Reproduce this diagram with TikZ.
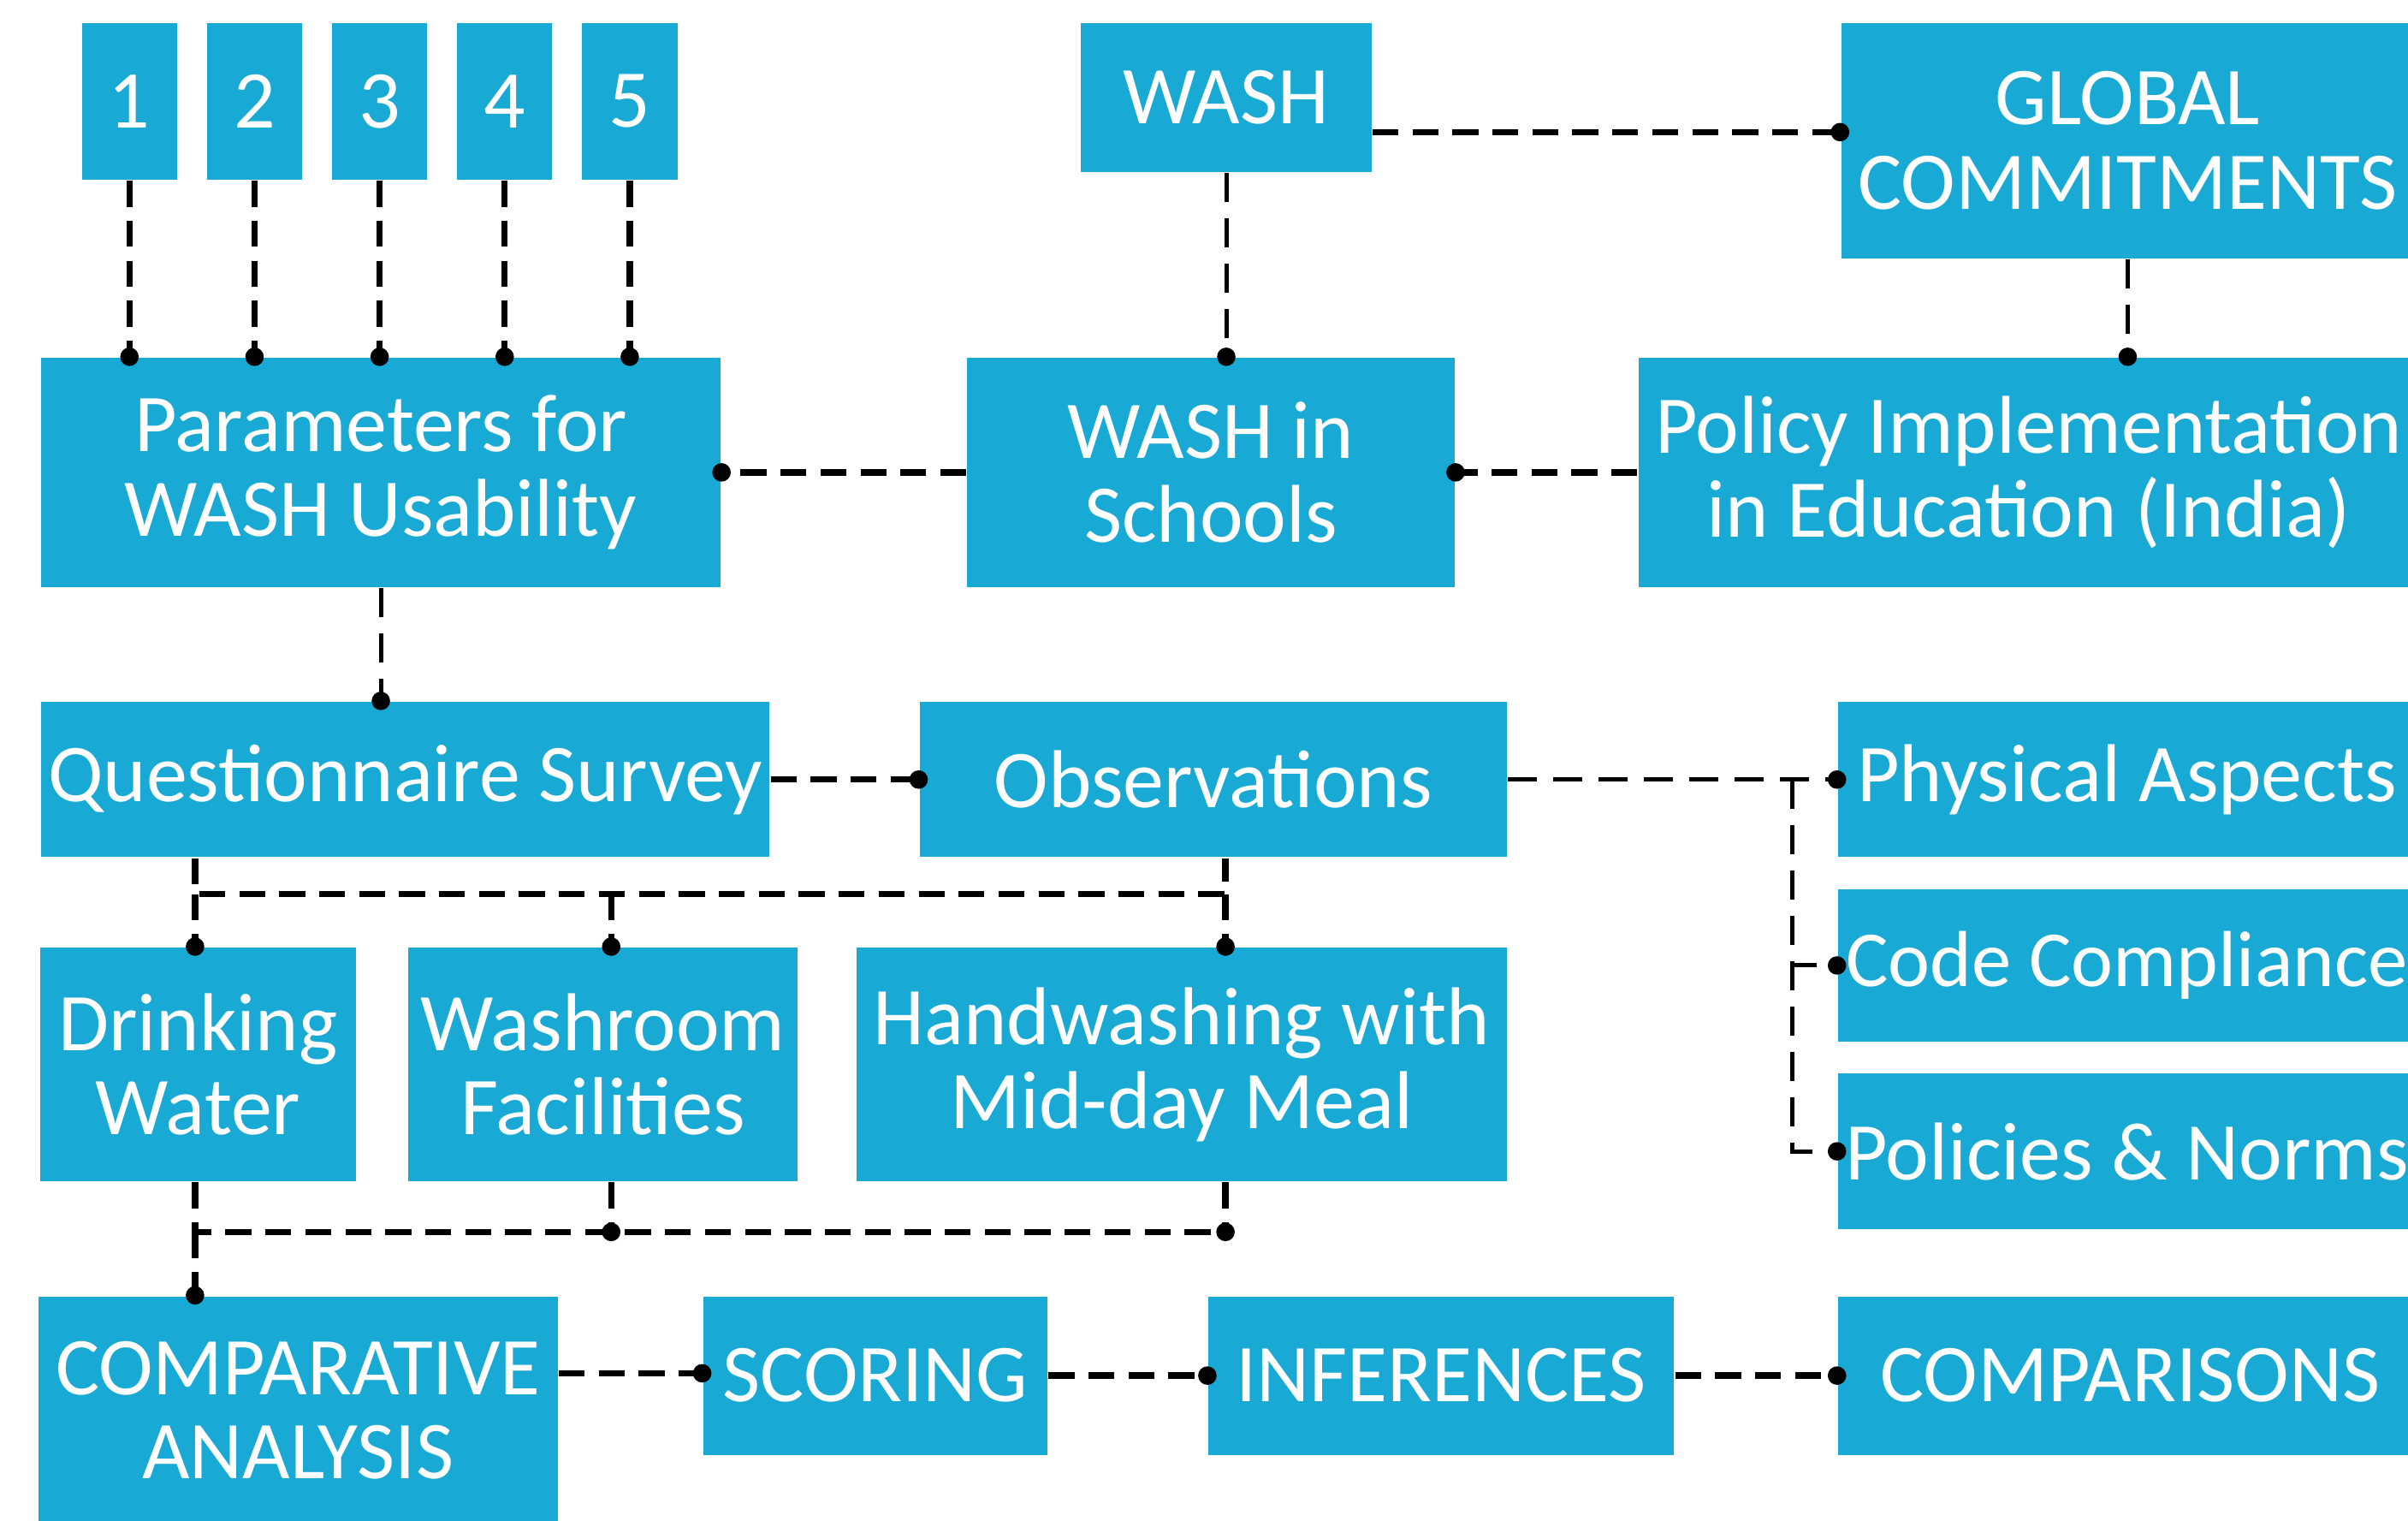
\documentclass[tikz,border=0pt]{standalone}
\usepackage{fontspec}
\setmainfont{Carlito}
\usepackage{xcolor}
\usetikzlibrary{arrows.meta}
\definecolor{washblue}{RGB}{24,169,212}

\tikzset{
  box/.style={fill=washblue,text=white,inner sep=0pt,align=center,font=\fontsize{15.2}{15.6}\selectfont},
  num/.style={box,minimum width=0.62cm,minimum height=1.02cm},
  link/.style={draw=black,line width=1.15pt,dash pattern=on 4.8pt off 2.6pt},
  thinlink/.style={draw=black,line width=0.8pt,dash pattern=on 5.4pt off 3pt},
  dot/.style={-{Circle[length=3.4pt,width=3.4pt]},shorten >=-1.7pt}
}

\begin{document}
\begin{tikzpicture}[x=0.01cm,y=-0.01cm,node distance=0.814cm]
  \useasboundingbox (0,0) rectangle (1568,990);
  \clip (0,0) rectangle (1568,990);

  \node[num] (n1) at (84.3,66) {1};
  \node[num] (n2) [right of=n1] {2};
  \node[num] (n3) [right of=n2] {3};
  \node[num] (n4) [right of=n3] {4};
  \node[num] (n5) [right of=n4] {5};

  \node[box,minimum width=1.89cm,minimum height=0.97cm] (wash) at (798.5,63.5) {WASH};
  \node[box,minimum width=3.73cm,minimum height=1.53cm] (glob) at (1385.5,91.5) {GLOBAL\\COMMITMENTS};
  \node[box,minimum width=4.42cm,minimum height=1.49cm] (param) at (248,307.5) {Parameters for\\WASH Usability};
  \node[box,minimum width=3.17cm,minimum height=1.49cm] (school) at (788.5,307.5) {WASH in\\Schools};
  \node[box,minimum width=5.08cm,minimum height=1.49cm] (policy) at (1321,307.5) {Policy Implementation\\in Education (India)};
  \node[box,minimum width=4.74cm,minimum height=1.01cm] (quest) at (264,507.5) {Questionnaire Survey};
  \node[box,minimum width=3.82cm,minimum height=1.01cm] (obs) at (790,507.5) {Observations};
  \node[box,minimum width=3.76cm,minimum height=1.01cm] (phys) at (1385,507.5) {Physical Aspects};
  \node[box,minimum width=3.76cm,minimum height=0.99cm,font=\fontsize{14.7}{15.6}\selectfont] (code) at (1385,628.5) {Code Compliance};
  \node[box,minimum width=3.76cm,minimum height=1.01cm] (norms) at (1385,749.5) {Policies \& Norms};
  \node[box,minimum width=2.06cm,minimum height=1.52cm] (drink) at (129,693) {Drinking\\Water};
  \node[box,minimum width=2.53cm,minimum height=1.52cm] (wroom) at (392.5,693) {Washroom\\Facilities};
  \node[box,minimum width=4.23cm,minimum height=1.52cm] (hand) at (769.5,693) {Handwashing with\\Mid-day Meal};
  \node[box,minimum width=3.38cm,minimum height=1.48cm] (comp) at (194,918) {COMPARATIVE\\ANALYSIS};
  \node[box,minimum width=2.24cm,minimum height=1.03cm] (score) at (570,895.5) {SCORING};
  \node[box,minimum width=3.03cm,minimum height=1.03cm] (infer) at (938.5,895.5) {INFERENCES};
  \node[box,minimum width=3.80cm,minimum height=1.03cm] (cmps) at (1387,895.5) {COMPARISONS};

  \coordinate (gline) at (0,86);
  \coordinate (split) at (1167,507.5);
  \coordinate (busL) at (127,582);
  \coordinate (busM) at (398,582);
  \coordinate (busR) at (798,582);
  \coordinate (botL) at (127,802);
  \coordinate (botM) at (398,802);
  \coordinate (botR) at (798,802);
  \coordinate (cline) at (0,894);

  \foreach \i in {1,...,5}
    \draw[link,dot] (n\i.south) -- (param.north -| n\i.south);
  \draw[link,dot] (wash.east |- gline) -- (glob.west |- gline);
  \draw[thinlink,dot] (wash.south) -- (school.north -| wash.south);
  \draw[thinlink,dot] (glob.south) -- (policy.north -| glob.south);
  \draw[link,dot] (policy.west) -- (school.east);
  \draw[link,dot] (school.west) -- (param.east);
  \draw[thinlink,dot] (param.south) -- (quest.north -| param.south);
  \draw[link,dot] (quest.east) -- (obs.west);
  \draw[thinlink,dot] (obs.east) -- (phys.west);
  \draw[thinlink,dot] (split) |- (code.west);
  \draw[thinlink,dot] (split) |- (norms.west);
  \draw[link] (quest.south -| busL) -- (busL) -- (busR) -- (obs.south -| busR);
  \draw[link,dot] (busL) -- (drink.north -| busL);
  \draw[link,dot] (busM) -- (wroom.north -| busM);
  \draw[link,dot] (busR) -- (hand.north -| busR);
  \draw[link] (drink.south -| botL) -- (botL) -- (botR);
  \draw[link,dot] (wroom.south -| botM) -- (botM);
  \draw[link,dot] (hand.south -| botR) -- (botR);
  \draw[link,dot] (botL) -- (comp.north -| botL);
  \draw[link,dot] (comp.east |- cline) -- (score.west |- cline);
  \draw[link,dot] (score.east) -- (infer.west);
  \draw[link,dot] (infer.east) -- (cmps.west);
\end{tikzpicture}
\end{document}
